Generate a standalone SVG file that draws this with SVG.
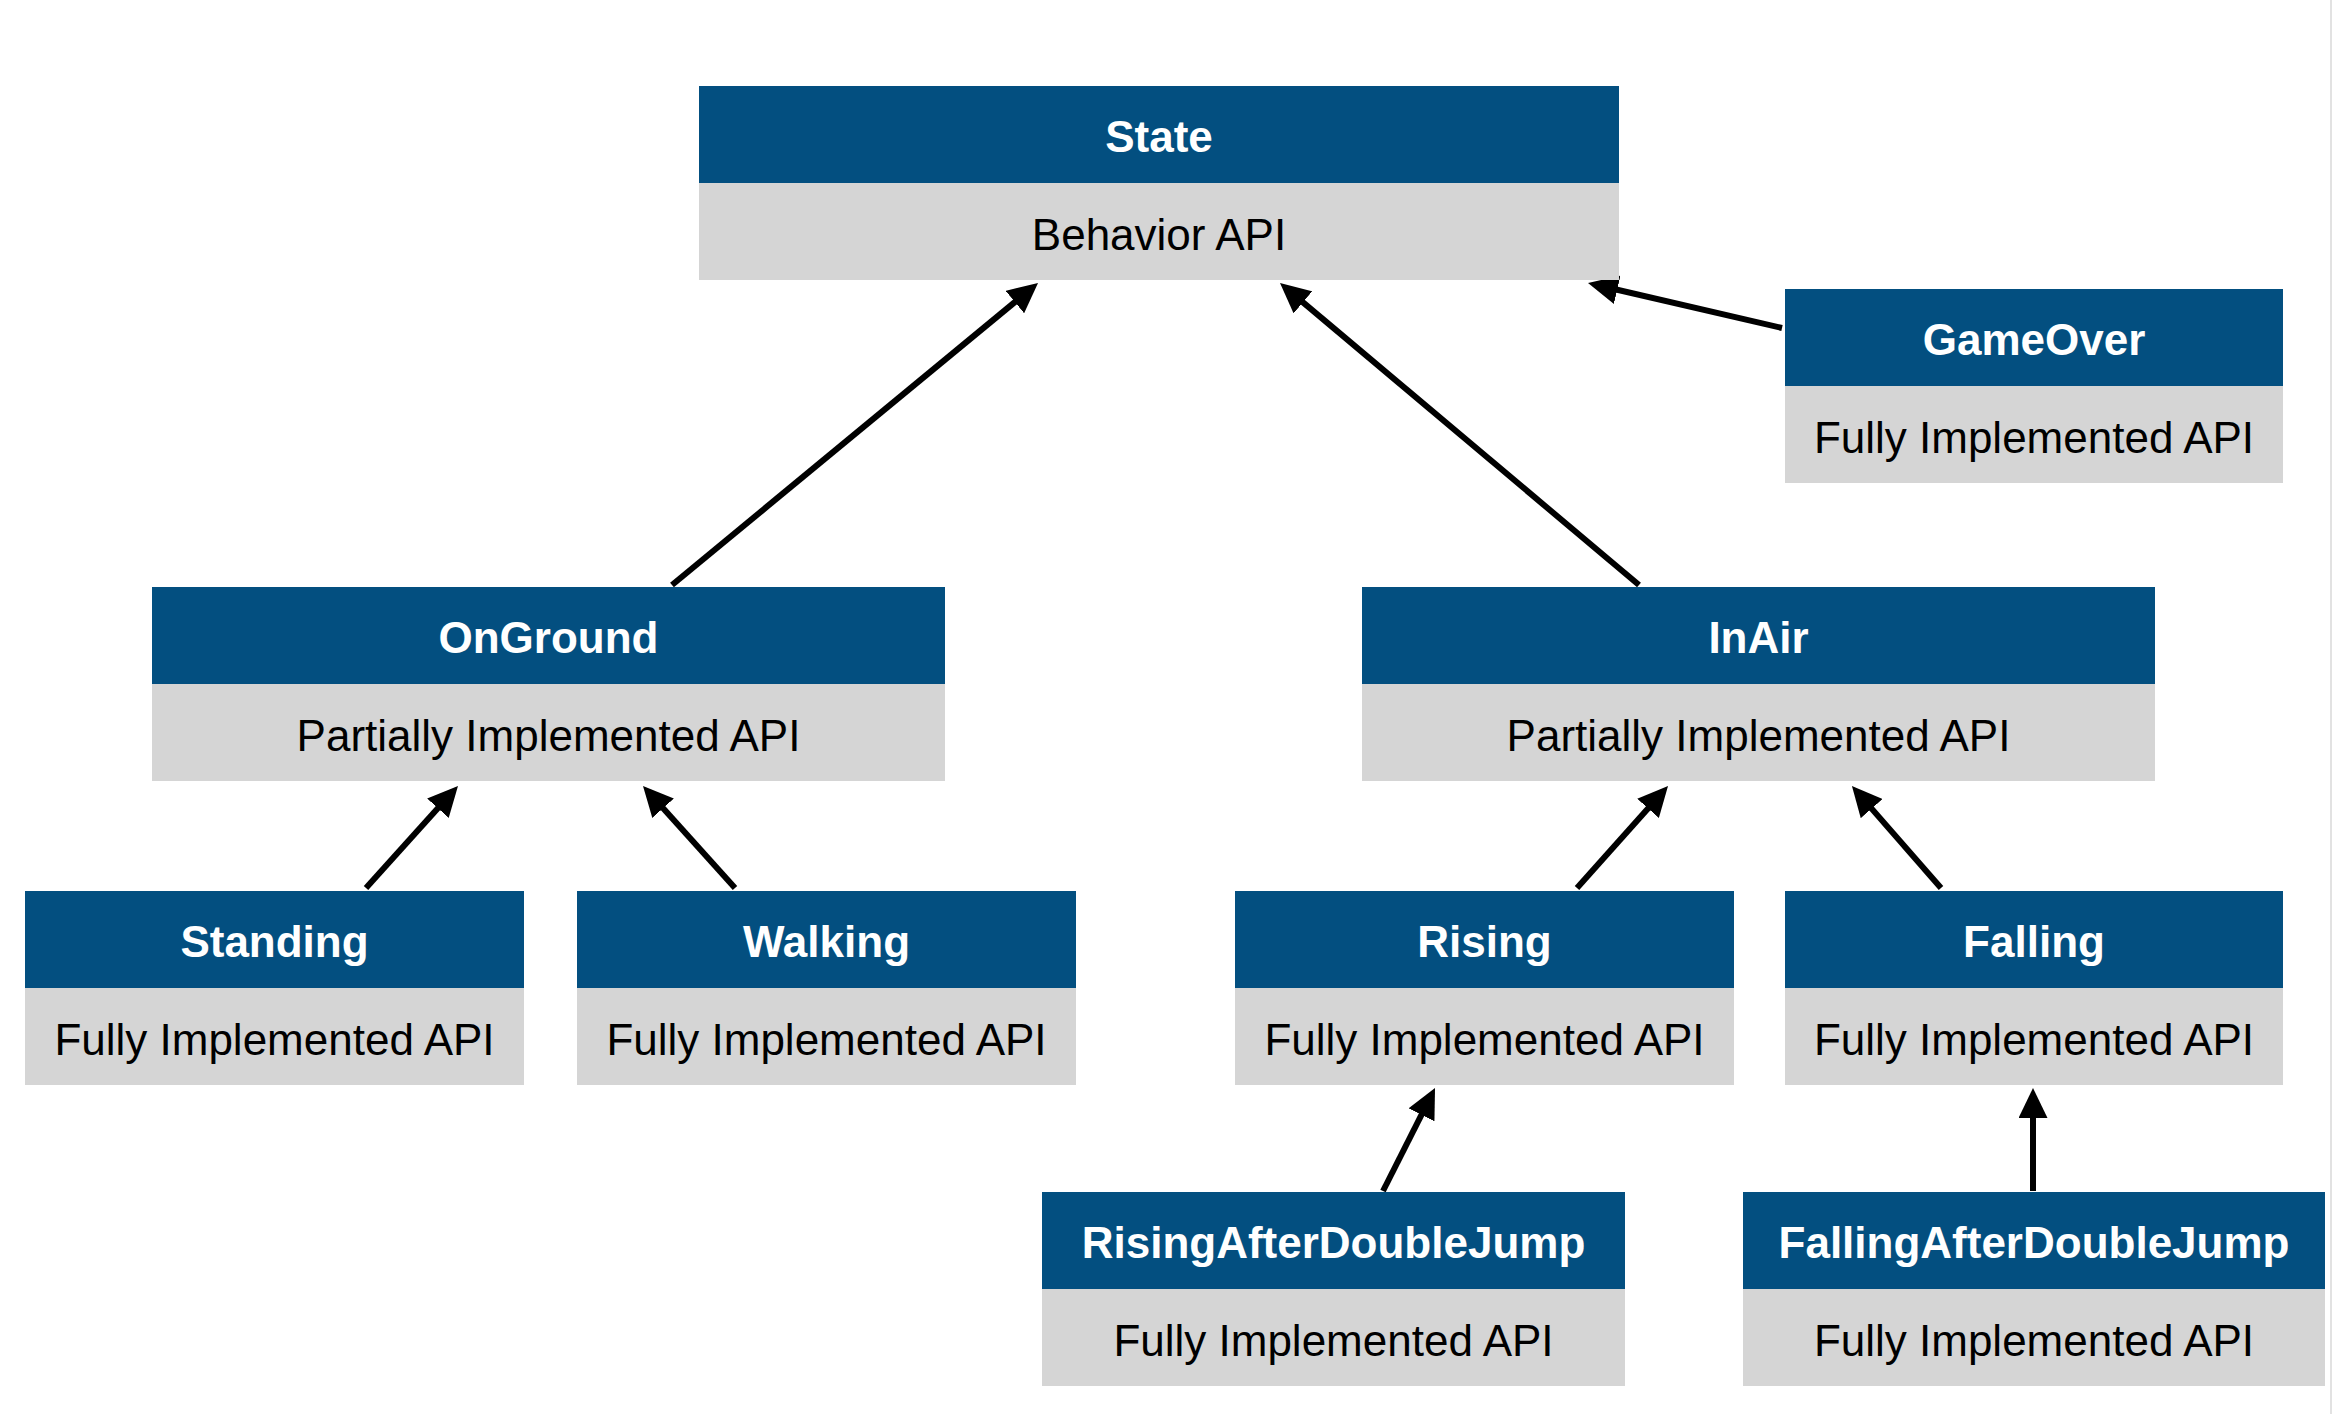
<svg xmlns="http://www.w3.org/2000/svg" width="2336" height="1414" viewBox="0 0 2336 1414">
  <style>
    .hd { fill: #034f80; }
    .bd { fill: #d5d5d5; }
    .ht { font-family: "Liberation Sans", Arial, Helvetica, sans-serif; font-size: 44px; font-weight: bold; fill: #ffffff; text-anchor: middle; }
    .bt { font-family: "Liberation Sans", Arial, Helvetica, sans-serif; font-size: 44px; fill: #000000; text-anchor: middle; }
    .edge { stroke: #000000; stroke-width: 6; fill: none; marker-end: url(#arrow); }
  </style>
  <defs>
    <marker id="arrow" viewBox="0 0 30 29" refX="10" refY="14.5" markerWidth="30" markerHeight="29" markerUnits="userSpaceOnUse" orient="auto">
      <path d="M0,0 L30,14.5 L0,29 z" fill="#000000"/>
    </marker>
  </defs>
  <rect x="0" y="0" width="2336" height="1414" fill="#ffffff"/>
  <line x1="2331" y1="0" x2="2331" y2="1414" stroke="#e2e2e2" stroke-width="2"/>

  <g id="connectors">
    <line class="edge" x1="672" y1="585" x2="1022.6" y2="295.7"/>
    <line class="edge" x1="1639" y1="585" x2="1295.3" y2="295.9"/>
    <line class="edge" x1="1782" y1="328" x2="1607.5" y2="287.5"/>
    <line class="edge" x1="366" y1="888" x2="444.6" y2="800.8"/>
    <line class="edge" x1="735" y1="888" x2="656.4" y2="800.8"/>
    <line class="edge" x1="1577" y1="888" x2="1654.7" y2="800.9"/>
    <line class="edge" x1="1941" y1="888" x2="1865.1" y2="801.1"/>
    <line class="edge" x1="1383" y1="1191" x2="1426.0" y2="1105.9"/>
    <line class="edge" x1="2033" y1="1191" x2="2033" y2="1108"/>
  </g>

  <g id="State">
    <rect class="hd" x="699" y="86" width="920" height="97"/>
    <rect class="bd" x="699" y="183" width="920" height="97"/>
    <text class="ht" x="1159" y="152">State</text>
    <text class="bt" x="1159" y="250">Behavior API</text>
  </g>
  <g id="GameOver">
    <rect class="hd" x="1785" y="289" width="498" height="97"/>
    <rect class="bd" x="1785" y="386" width="498" height="97"/>
    <text class="ht" x="2034" y="355">GameOver</text>
    <text class="bt" x="2034" y="453">Fully Implemented API</text>
  </g>
  <g id="OnGround">
    <rect class="hd" x="152" y="587" width="793" height="97"/>
    <rect class="bd" x="152" y="684" width="793" height="97"/>
    <text class="ht" x="548.5" y="653">OnGround</text>
    <text class="bt" x="548.5" y="751">Partially Implemented API</text>
  </g>
  <g id="InAir">
    <rect class="hd" x="1362" y="587" width="793" height="97"/>
    <rect class="bd" x="1362" y="684" width="793" height="97"/>
    <text class="ht" x="1758.5" y="653">InAir</text>
    <text class="bt" x="1758.5" y="751">Partially Implemented API</text>
  </g>
  <g id="Standing">
    <rect class="hd" x="25" y="891" width="499" height="97"/>
    <rect class="bd" x="25" y="988" width="499" height="97"/>
    <text class="ht" x="274.5" y="957">Standing</text>
    <text class="bt" x="274.5" y="1055">Fully Implemented API</text>
  </g>
  <g id="Walking">
    <rect class="hd" x="577" y="891" width="499" height="97"/>
    <rect class="bd" x="577" y="988" width="499" height="97"/>
    <text class="ht" x="826.5" y="957">Walking</text>
    <text class="bt" x="826.5" y="1055">Fully Implemented API</text>
  </g>
  <g id="Rising">
    <rect class="hd" x="1235" y="891" width="499" height="97"/>
    <rect class="bd" x="1235" y="988" width="499" height="97"/>
    <text class="ht" x="1484.5" y="957">Rising</text>
    <text class="bt" x="1484.5" y="1055">Fully Implemented API</text>
  </g>
  <g id="Falling">
    <rect class="hd" x="1785" y="891" width="498" height="97"/>
    <rect class="bd" x="1785" y="988" width="498" height="97"/>
    <text class="ht" x="2034" y="957">Falling</text>
    <text class="bt" x="2034" y="1055">Fully Implemented API</text>
  </g>
  <g id="RisingAfterDoubleJump">
    <rect class="hd" x="1042" y="1192" width="583" height="97"/>
    <rect class="bd" x="1042" y="1289" width="583" height="97"/>
    <text class="ht" x="1333.5" y="1258">RisingAfterDoubleJump</text>
    <text class="bt" x="1333.5" y="1356">Fully Implemented API</text>
  </g>
  <g id="FallingAfterDoubleJump">
    <rect class="hd" x="1743" y="1192" width="582" height="97"/>
    <rect class="bd" x="1743" y="1289" width="582" height="97"/>
    <text class="ht" x="2034" y="1258">FallingAfterDoubleJump</text>
    <text class="bt" x="2034" y="1356">Fully Implemented API</text>
  </g>
</svg>
